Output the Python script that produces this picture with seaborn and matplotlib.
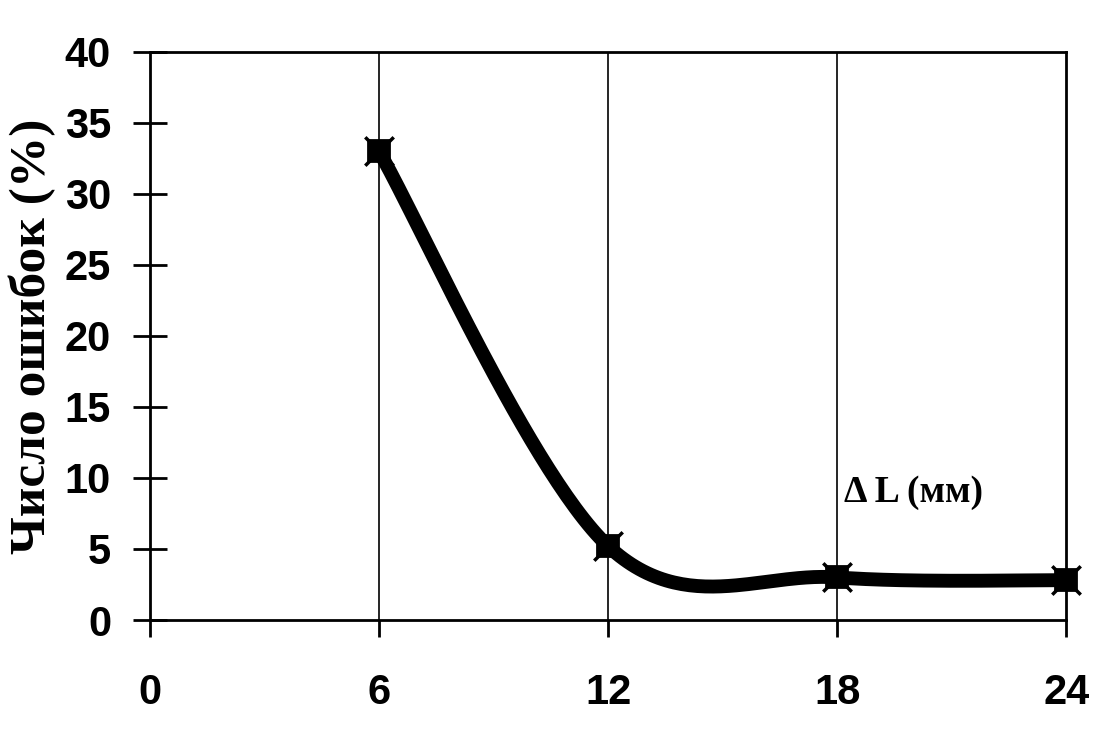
import numpy as np
import pandas as pd
import matplotlib
matplotlib.use('Agg')
import matplotlib.pyplot as plt
import seaborn as sns

# data
delta_l = [6, 12, 18, 24]
errors = [33, 5.2, 3.0, 2.8]
x_ticks = [0, 6, 12, 18, 24]
y_ticks = [0, 5, 10, 15, 20, 25, 30, 35, 40]


def smooth_line(xs, ys, n=60):
    # Excel-style smoothed line: bezier segments with catmull-rom control points
    p = np.column_stack([xs, ys]).astype(float)
    ext = np.vstack([p[0], p, p[-1]])
    out = []
    t = np.linspace(0, 1, n)[:, None]
    for i in range(len(p) - 1):
        p0, p1, p2, p3 = ext[i], ext[i + 1], ext[i + 2], ext[i + 3]
        c1 = p1 + (p2 - p0) / 6
        c2 = p2 - (p3 - p1) / 6
        seg = ((1 - t) ** 3) * p1 + 3 * ((1 - t) ** 2) * t * c1 + 3 * (1 - t) * t ** 2 * c2 + t ** 3 * p2
        out.append(seg)
    out = np.vstack(out)
    return out[:, 0], out[:, 1]


sns.set_style('white')
plt.rcParams['font.family'] = ['Liberation Sans', 'DejaVu Sans']
plt.rcParams['text.color'] = 'black'
plt.rcParams['axes.labelcolor'] = 'black'
plt.rcParams['xtick.color'] = 'black'
plt.rcParams['ytick.color'] = 'black'

fig = plt.figure(figsize=(11.19, 7.32), dpi=100)
ax = fig.add_axes([0.134, 0.153, 0.819, 0.776])

sx, sy = smooth_line(delta_l, errors)
curve = pd.DataFrame({'x': sx, 'y': sy})
pts = pd.DataFrame({'x': delta_l, 'y': errors})

sns.lineplot(data=curve, x='x', y='y', color='black', linewidth=10, sort=False,
             estimator=None, ax=ax, zorder=3, clip_on=False)
sns.scatterplot(data=pts, x='x', y='y', marker='s', s=260, color='black',
                edgecolor='black', ax=ax, zorder=4, clip_on=False)
sns.scatterplot(data=pts, x='x', y='y', marker='x', s=420, color='black',
                linewidth=2.5, ax=ax, zorder=4, clip_on=False)

ax.set_xlim(0, 24)
ax.set_ylim(0, 40)
ax.set_xticks(x_ticks)
ax.set_yticks(y_ticks)

for xv in x_ticks[1:-1]:
    ax.axvline(xv, color='black', linewidth=1.2, zorder=1)

for s in ax.spines.values():
    s.set_color('black')
    s.set_linewidth(2)

ax.tick_params(axis='y', direction='inout', length=24, width=2, pad=16,
               labelsize=30, left=True, colors='black')
ax.tick_params(axis='x', direction='out', length=12, width=2, pad=26,
               labelsize=30, bottom=True, colors='black')
for lab in ax.get_xticklabels() + ax.get_yticklabels():
    lab.set_fontweight('bold')

ax.set_xlabel('')
ax.set_ylabel('Число ошибок (%)', family=['Liberation Serif', 'DejaVu Serif'],
              fontsize=37, fontweight='bold', labelpad=6, color='black')

ax.text(0.833, 0.224, 'Δ L (мм)', transform=ax.transAxes, ha='center', va='center',
        family=['Liberation Serif', 'DejaVu Serif'], fontsize=27, fontweight='bold',
        color='black')

fig.savefig('out.png', dpi=100)
